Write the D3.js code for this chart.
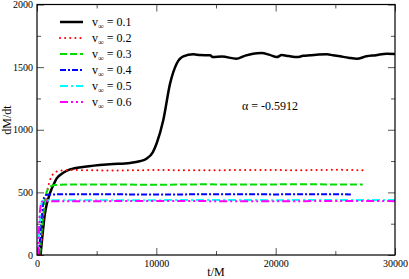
<!DOCTYPE html>
<html>
<head>
<meta charset="utf-8">
<script src="https://cdn.jsdelivr.net/npm/d3@7"></script>
<style>
  body { margin: 0; background: #fff; }
  svg, svg text { font-family: "Liberation Serif", "DejaVu Serif", serif; }
</style>
</head>
<body>
<svg id="chart" width="409" height="279"></svg>
<script>
// ------------------------------------------
//  Data
// ------------------------------------------
const labels = ['0.1', '0.2', '0.3', '0.4', '0.5', '0.6']
const colors = ['#000000', '#ff0000', '#00dd00', '#0000ff', '#00ffff', '#ff00ff']
const dashes = [null, '0.1,5', '7,3', '6,2,2,2', '8,3,2,3', '8,3,2,3,2,3']

const t01 = [300, 670, 1090, 1500, 1650, 2200, 2770, 4000, 6100, 7800, 8600, 9200, 9700, 10030, 10580, 11150, 11700, 12260, 13100, 13660, 14500, 14750, 15500, 16700, 17400, 18100, 18800, 19500, 20100, 20500, 21100, 21800, 22300, 22900, 23600, 24300, 24800, 25400, 26100, 26800, 27600, 28400, 29300, 30000]
const v01 = [0, 335, 494, 584, 611, 656, 683, 705, 725, 735, 748, 770, 820, 892, 1076, 1368, 1527, 1586, 1602, 1596, 1594, 1580, 1585, 1567, 1590, 1607, 1612, 1598, 1580, 1596, 1588, 1580, 1590, 1594, 1600, 1602, 1595, 1586, 1575, 1567, 1586, 1595, 1607, 1605]

const t02 = [300, 700, 1000, 1300, 1700, 2200, 3000, 6000, 10000, 14000, 18000, 22000, 25000, 27500]
const v02 = [0, 420, 570, 640, 668, 676, 678, 675, 678, 676, 679, 677, 680, 676]

const t03 = [200, 500, 800, 1100, 1500, 2500, 6000, 10000, 14000, 18000, 22000, 25000, 27300]
const v03 = [0, 300, 500, 545, 558, 562, 563, 561, 564, 562, 565, 563, 562]

const t04 = [150, 400, 600, 800, 1500, 5000, 10000, 15000, 20000, 24000, 26300]
const v04 = [0, 300, 460, 480, 484, 485, 483, 485, 484, 485, 484]

const t05 = [100, 300, 450, 700, 5000, 10000, 15000, 20000, 25000, 30000]
const v05 = [0, 350, 430, 438, 437, 438, 439, 438, 440, 439]

const t06 = [100, 250, 400, 700, 5000, 10000, 15000, 20000, 25000, 30000]
const v06 = [0, 350, 425, 430, 430, 431, 430, 429, 431, 430]

const times = [t01, t02, t03, t04, t05, t06]
const values = [v01, v02, v03, v04, v05, v06]

const xMajor = [0, 10000, 20000, 30000]
const xMinor = [5000, 15000, 25000]
const yMajor = [0, 500, 1000, 1500, 2000]
const yMinor = [250, 750, 1250, 1750]

// ------------------------------------------
//  Chart
// ------------------------------------------
const svg = d3.select('#chart')
const margin = { top: 4.5, right: 14, bottom: 24, left: 37 }
const width = 409 - margin.left - margin.right
const height = 279 - margin.top - margin.bottom
const g = svg.append('g').attr('transform', `translate(${margin.left},${margin.top})`)

const x = d3.scaleLinear().domain([0, 30000]).range([0, width])
const y = d3.scaleLinear().domain([0, 2000]).range([height, 0])

// ticks, mirrored on all four sides, pointing inward
function ticks(axis, vals, size, labelled, transform) {
  const a = g.append('g').attr('class', 'axis').attr('transform', transform)
    .call(axis.tickValues(vals).tickSize(size).tickSizeOuter(0)
      .tickFormat(labelled ? d3.format('d') : ''))
  a.attr('font-family', 'Liberation Serif').attr('font-size', 10)
  a.select('.domain').remove()
  a.selectAll('line').attr('stroke', '#555')
  a.selectAll('text').attr('fill', '#000')
  return a
}

const bx = ticks(d3.axisBottom(x), xMajor, -7, true, `translate(0,${height})`)
bx.selectAll('text').attr('y', 5)
ticks(d3.axisBottom(x), xMinor, -4, false, `translate(0,${height})`)
ticks(d3.axisTop(x), xMajor, -7, false, 'translate(0,0)')
ticks(d3.axisTop(x), xMinor, -4, false, 'translate(0,0)')

const ly = ticks(d3.axisLeft(y), yMajor, -7, true, 'translate(0,0)')
ly.selectAll('text').attr('x', -4)
ticks(d3.axisLeft(y), yMinor, -4, false, 'translate(0,0)')
ticks(d3.axisRight(y), yMajor, -7, false, `translate(${width},0)`)
ticks(d3.axisRight(y), yMinor, -4, false, `translate(${width},0)`)

// curves
const line = d3.line()
  .x(d => x(d[0]))
  .y(d => y(d[1]))
  .curve(d3.curveMonotoneX)

times.forEach((ts, i) => {
  g.append('path')
    .datum(ts.map((t, j) => [t, values[i][j]]))
    .attr('fill', 'none')
    .attr('stroke', colors[i])
    .attr('stroke-width', i === 0 ? 2.5 : 2)
    .attr('stroke-dasharray', dashes[i])
    .attr('stroke-linecap', i === 1 ? 'round' : 'butt')
    .attr('d', line)
})

// frame
g.append('rect')
  .attr('width', width).attr('height', height)
  .attr('fill', 'none').attr('stroke', '#000').attr('stroke-width', 1.2)

// legend
const legend = svg.append('g').attr('transform', 'translate(60,22)')
labels.forEach((l, i) => {
  const row = legend.append('g').attr('transform', `translate(0,${i * 16})`)
  row.append('line')
    .attr('x1', 0).attr('x2', 23)
    .attr('stroke', colors[i])
    .attr('stroke-width', i === 0 ? 2.5 : 2)
    .attr('stroke-dasharray', dashes[i])
    .attr('stroke-linecap', i === 1 ? 'round' : 'butt')
  const txt = row.append('text').attr('x', 32).attr('y', 4).attr('font-size', 12)
  txt.append('tspan').text('v')
  txt.append('tspan').attr('font-size', 8).attr('dy', 3).text('\u221e')
  txt.append('tspan').attr('dy', -3).text(' = ' + l)
})

// annotation and axis titles
svg.append('text').attr('x', 242).attr('y', 110).attr('font-size', 12).text('\u03b1 = -0.5912')

svg.append('text')
  .attr('transform', `translate(${margin.left + width / 2},276)`)
  .attr('text-anchor', 'middle').attr('font-size', 12)
  .text('t/M')

svg.append('text')
  .attr('transform', 'translate(11,120) rotate(-90)')
  .attr('text-anchor', 'middle').attr('font-size', 12)
  .text('dM/dt')
</script>
</body>
</html>
